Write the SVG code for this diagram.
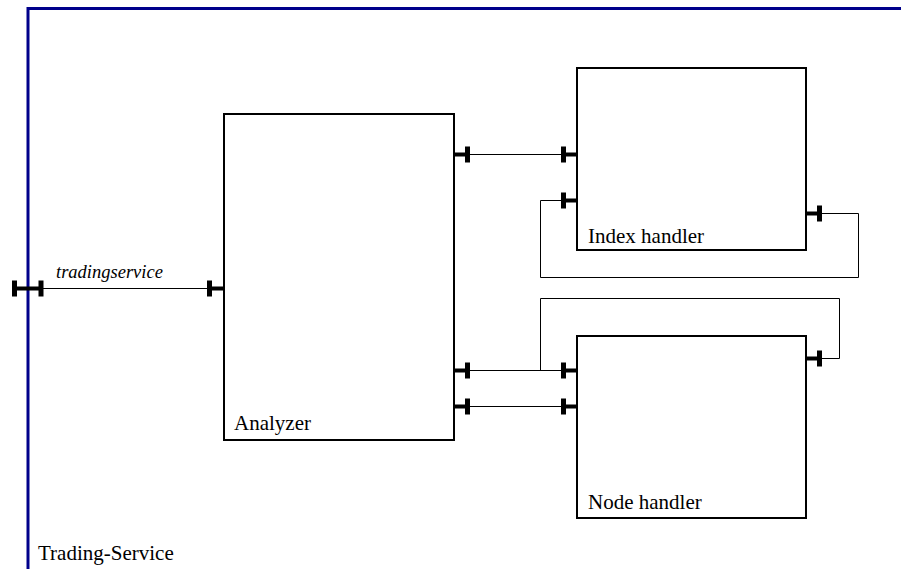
<svg xmlns="http://www.w3.org/2000/svg" width="901" height="569" viewBox="0 0 901 569">
<style>
.box{fill:#fff;stroke:#000;stroke-width:2}
.frame{fill:none;stroke:#00008b;stroke-width:3}
.conn{fill:none;stroke:#000;stroke-width:1}
.port{fill:#000}
text{font-family:"Liberation Serif","Times New Roman",serif;font-size:21px;fill:#000}
.it{font-style:italic;font-size:18.5px}
</style>
<rect width="901" height="569" fill="#fff"/>
<g id="frame">
<path class="frame" d="M28 569 V8.5 H901"/>
<text x="38" y="560">Trading-Service</text>
</g>
<g id="connectors">
<path class="conn" d="M43 288.5 H208"/>
<text class="it" x="56" y="278">tradingservice</text>
<path class="conn" d="M469 154.5 H562"/>
<path class="conn" d="M563 200.5 H540.5 V277.5 H858.5 V213.5 H821"/>
<path class="conn" d="M469 370.5 H562"/>
<path class="conn" d="M540.5 370.5 V298.5 H839.5 V358.5 H822"/>
<path class="conn" d="M469 406.5 H562"/>
</g>
<g id="analyzer">
<rect class="box" x="224" y="114" width="230" height="326"/>
<text x="234" y="430">Analyzer</text>
</g>
<g id="index-handler">
<rect class="box" x="577" y="68" width="229" height="182"/>
<text x="588" y="243">Index handler</text>
</g>
<g id="node-handler">
<rect class="box" x="577" y="336" width="229" height="182"/>
<text x="588" y="509">Node handler</text>
</g>
<g id="ports" class="port">
<rect x="12" y="286.5" width="31" height="4"/>
<rect x="12" y="280.5" width="5" height="16"/>
<rect x="38.5" y="280.5" width="5" height="16"/>
<rect x="207" y="286.5" width="17" height="4"/>
<rect x="207" y="280.5" width="5" height="16"/>
<rect x="454" y="152.5" width="16" height="4"/>
<rect x="465" y="146.5" width="5" height="16"/>
<rect x="454" y="368.5" width="16" height="4"/>
<rect x="465" y="362.5" width="5" height="16"/>
<rect x="454" y="404.5" width="16" height="4"/>
<rect x="465" y="398.5" width="5" height="16"/>
<rect x="561" y="152.5" width="16" height="4"/>
<rect x="561" y="146.5" width="5" height="16"/>
<rect x="561" y="198.5" width="16" height="4"/>
<rect x="561" y="192.5" width="5" height="16"/>
<rect x="806" y="211.5" width="16" height="4"/>
<rect x="817" y="205.5" width="5" height="16"/>
<rect x="561" y="368.5" width="16" height="4"/>
<rect x="561" y="362.5" width="5" height="16"/>
<rect x="561" y="404.5" width="16" height="4"/>
<rect x="561" y="398.5" width="5" height="16"/>
<rect x="806" y="356.5" width="16" height="4"/>
<rect x="817" y="350.5" width="5" height="16"/>
</g>
</svg>
